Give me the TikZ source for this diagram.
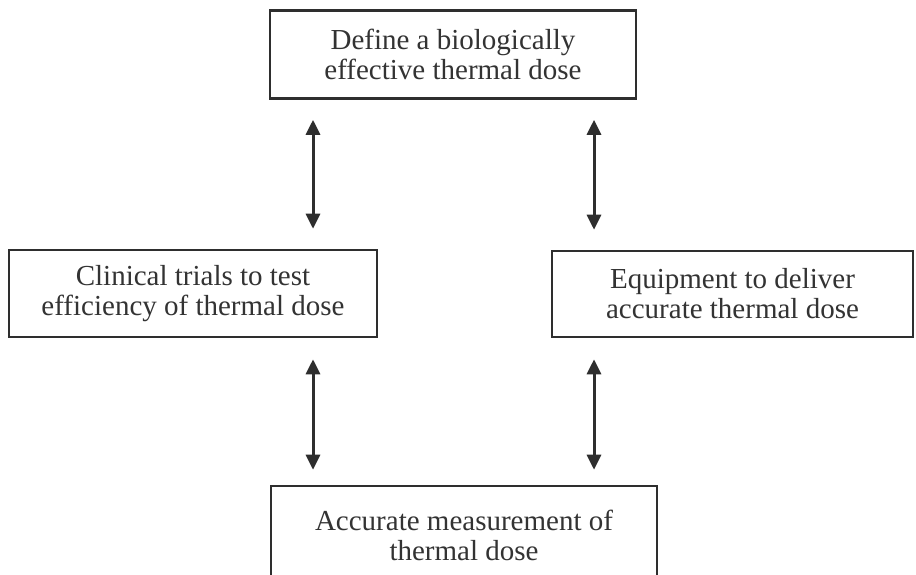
\documentclass[tikz,border=0pt]{standalone}
\usepackage{fontspec}
\setmainfont{Liberation Serif}
\usetikzlibrary{arrows.meta}
\definecolor{ink}{HTML}{2E2E2E}
\definecolor{txt}{HTML}{333333}
\tikzset{
  box/.style={draw=ink, line width=2.6pt, text=txt, align=center, inner sep=0pt,
    font=\fontsize{29}{30}\selectfont},
  dbl/.style={draw=ink, line width=3pt, {Triangle[length=15pt,width=14pt]}-{Triangle[length=15pt,width=14pt]}}
}
\begin{document}
\begin{tikzpicture}[x=1pt,y=-1pt]
\useasboundingbox (0,0) rectangle (916,574);
\fill[white] (0,0) rectangle (916,574);
\node[box, minimum width=366pt, minimum height=88pt] (top) at (453,54.5)
  {Define a biologically\\effective thermal dose};
\node[box, minimum width=368pt, minimum height=87pt] (left) at (193,293.5)
  {Clinical trials to test\\efficiency of thermal dose};
\node[box, minimum width=361pt, minimum height=86pt] (right) at (732.5,294)
  {Equipment to deliver\\accurate thermal dose};
\node[box, minimum width=386pt, minimum height=98pt] (bottom) at (464,535)
  {Accurate measurement of\\thermal dose};
\coordinate (cl) at (313,0);
\coordinate (cr) at (594,0);
\draw[dbl, shorten <=20pt, shorten >=20pt] (top.south -| cl) -- (left.north -| cl);
\draw[dbl, shorten <=20pt, shorten >=20pt] (top.south -| cr) -- (right.north -| cr);
\draw[dbl, shorten <=21pt, shorten >=15pt] (left.south -| cl) -- (bottom.north -| cl);
\draw[dbl, shorten <=21pt, shorten >=15pt] (right.south -| cr) -- (bottom.north -| cr);
\end{tikzpicture}
\end{document}
